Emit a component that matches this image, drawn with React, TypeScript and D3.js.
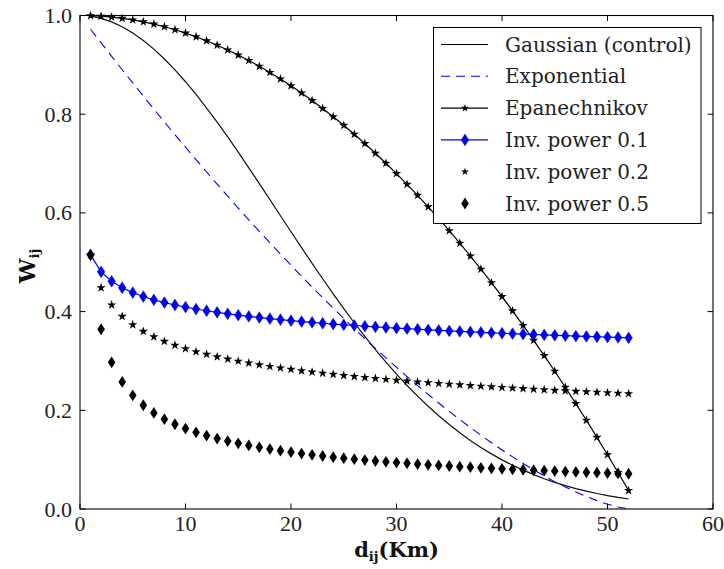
import React from 'react';
import * as d3 from 'd3';

// distance d_ij (Km)
const distances = [1, 2, 3, 4, 5, 6, 7, 8, 9, 10, 11, 12, 13, 14, 15, 16, 17, 18, 19, 20, 21, 22, 23, 24, 25, 26,
  27, 28, 29, 30, 31, 32, 33, 34, 35, 36, 37, 38, 39, 40, 41, 42, 43, 44, 45, 46, 47, 48, 49, 50, 51, 52];

const gaussian = [0.9986, 0.9943, 0.9871, 0.9772, 0.9646, 0.9494, 0.9318, 0.9119, 0.8898, 0.8658, 0.84, 0.8125,
  0.7838, 0.7539, 0.723, 0.6914, 0.6594, 0.6269, 0.5943, 0.5618, 0.5296, 0.4978, 0.4665, 0.436, 0.4062, 0.3774,
  0.3497, 0.323, 0.2975, 0.2733, 0.2503, 0.2286, 0.2081, 0.189, 0.1711, 0.1545, 0.139, 0.1248, 0.1117, 0.0996,
  0.0886, 0.0787, 0.0696, 0.0614, 0.054, 0.0474, 0.0414, 0.0361, 0.0314, 0.0272, 0.0235, 0.0203];

const exponential = [0.9721, 0.9446, 0.9172, 0.8901, 0.8633, 0.8367, 0.8104, 0.7843, 0.7586, 0.7331, 0.7079, 0.6829,
  0.6583, 0.6339, 0.6098, 0.586, 0.5625, 0.5394, 0.5165, 0.4939, 0.4717, 0.4498, 0.4282, 0.407, 0.3861, 0.3655,
  0.3453, 0.3255, 0.3061, 0.287, 0.2683, 0.25, 0.2322, 0.2147, 0.1977, 0.1812, 0.1651, 0.1495, 0.1343, 0.1197,
  0.1057, 0.0922, 0.0793, 0.067, 0.0555, 0.0446, 0.0345, 0.0252, 0.017, 0.0098, 0.0041, 0.0003];

const epanechnikov = [0.9996, 0.9986, 0.9968, 0.9943, 0.9911, 0.9872, 0.9826, 0.9772, 0.9712, 0.9644, 0.9569, 0.9487,
  0.9398, 0.9302, 0.9199, 0.9089, 0.8971, 0.8847, 0.8715, 0.8576, 0.843, 0.8277, 0.8117, 0.7949, 0.7775, 0.7593,
  0.7405, 0.7209, 0.7006, 0.6796, 0.6579, 0.6355, 0.6123, 0.5885, 0.5639, 0.5386, 0.5126, 0.4859, 0.4585, 0.4304,
  0.4016, 0.372, 0.3418, 0.3108, 0.2791, 0.2467, 0.2136, 0.1798, 0.1452, 0.11, 0.074, 0.0374];

const invPower01 = [0.515, 0.4805, 0.4614, 0.4483, 0.4384, 0.4305, 0.4239, 0.4183, 0.4134, 0.4091, 0.4052, 0.4017,
  0.3985, 0.3955, 0.3928, 0.3903, 0.3879, 0.3857, 0.3836, 0.3817, 0.3798, 0.3781, 0.3764, 0.3748, 0.3733, 0.3718,
  0.3704, 0.3691, 0.3678, 0.3665, 0.3653, 0.3642, 0.363, 0.362, 0.3609, 0.3599, 0.3589, 0.358, 0.357, 0.3561,
  0.3552, 0.3544, 0.3536, 0.3527, 0.352, 0.3512, 0.3504, 0.3497, 0.349, 0.3483, 0.3476, 0.3469];

const invPower02 = [0.515, 0.4483, 0.4134, 0.3903, 0.3733, 0.3599, 0.349, 0.3398, 0.3319, 0.3249, 0.3188, 0.3133,
  0.3083, 0.3038, 0.2996, 0.2958, 0.2922, 0.2889, 0.2858, 0.2829, 0.2801, 0.2775, 0.2751, 0.2728, 0.2705, 0.2684,
  0.2664, 0.2645, 0.2626, 0.2608, 0.2591, 0.2575, 0.2559, 0.2544, 0.2529, 0.2515, 0.2501, 0.2488, 0.2475, 0.2463,
  0.245, 0.2439, 0.2427, 0.2416, 0.2405, 0.2395, 0.2384, 0.2374, 0.2365, 0.2355, 0.2346, 0.2337];

const invPower05 = [0.515, 0.3642, 0.2973, 0.2575, 0.2303, 0.2102, 0.1947, 0.1821, 0.1717, 0.1629, 0.1553, 0.1487,
  0.1428, 0.1376, 0.133, 0.1288, 0.1249, 0.1214, 0.1181, 0.1152, 0.1124, 0.1098, 0.1074, 0.1051, 0.103, 0.101,
  0.0991, 0.0973, 0.0956, 0.094, 0.0925, 0.091, 0.0896, 0.0883, 0.0871, 0.0858, 0.0847, 0.0835, 0.0825, 0.0814,
  0.0804, 0.0795, 0.0785, 0.0776, 0.0768, 0.0759, 0.0751, 0.0743, 0.0736, 0.0728, 0.0721, 0.0714];

const xTickValues = [0, 10, 20, 30, 40, 50, 60];
const yTickValues = [0, 0.2, 0.4, 0.6, 0.8, 1.0];
const legendLabels = ['Gaussian (control)', 'Exponential', 'Epanechnikov', 'Inv. power 0.1', 'Inv. power 0.2', 'Inv. power 0.5'];

const W = 724;
const H = 569;
const L = 80, R = 713, T = 15.5, B = 509;

const x = d3.scaleLinear().domain([0, 60]).range([L, R]);
const y = d3.scaleLinear().domain([0, 1]).range([B, T]);

const starPath = d3.symbol(d3.symbolStar, 27)() as string;
const starSmall = d3.symbol(d3.symbolStar, 20)() as string;
const diamondPath = 'M0,-5.9L3.8,0L0,5.9L-3.8,0Z';

const tickFont = '"Liberation Serif", serif';
const legendFont = '"DejaVu Serif", serif';

function linePath(vals: number[]) {
  const gen = d3.line<number>().x((_, i) => x(distances[i])).y((v) => y(v));
  return gen(vals) as string;
}

export default function App() {
  const tickLen = 5.5;
  const legX = 433.5, legY = 27.5, legW = 267.5, legH = 196;
  const rowY = (i: number) => 44.5 + i * 31.8;
  return (
    <svg width={W} height={H} style={{ position: 'absolute', left: 0, top: 0, background: '#fff' }}>
      <rect x={0} y={0} width={W} height={H} fill="#fff" />
      {/* series */}
      <path d={linePath(gaussian)} fill="none" stroke="#111" strokeWidth={1.2} />
      <path d={linePath(exponential)} fill="none" stroke="#0000ff" strokeWidth={1.1} strokeDasharray="9,6" />
      <path d={linePath(epanechnikov)} fill="none" stroke="#000" strokeWidth={1.2} />
      {epanechnikov.map((v, i) => (
        <path key={'e' + i} d={starPath} transform={`translate(${x(distances[i])},${y(v)})`} fill="#000" />
      ))}
      <path d={linePath(invPower01)} fill="none" stroke="#0000ff" strokeWidth={1.2} />
      {invPower01.map((v, i) => (
        <path key={'a' + i} d={diamondPath} transform={`translate(${x(distances[i])},${y(v)})`} fill="#0000ff" stroke="#00006a" strokeWidth={0.4} />
      ))}
      {invPower02.map((v, i) => (
        <path key={'b' + i} d={starPath} transform={`translate(${x(distances[i])},${y(v)})`} fill="#000" />
      ))}
      {invPower05.map((v, i) => (
        <path key={'c' + i} d={diamondPath} transform={`translate(${x(distances[i])},${y(v)})`} fill="#000" />
      ))}

      {/* frame */}
      <rect x={L} y={T} width={R - L} height={B - T} fill="none" stroke="#000" strokeWidth={1.1} />
      {xTickValues.map((t) => (
        <g key={'xt' + t}>
          <line x1={x(t)} x2={x(t)} y1={B} y2={B - tickLen} stroke="#000" strokeWidth={1} />
          <line x1={x(t)} x2={x(t)} y1={T} y2={T + tickLen} stroke="#000" strokeWidth={1} />
          <text x={x(t)} y={531} textAnchor="middle" fontFamily={tickFont} fontSize={22} fill="#222">{t}</text>
        </g>
      ))}
      {yTickValues.map((t) => (
        <g key={'yt' + t}>
          <line x1={L} x2={L + tickLen} y1={y(t)} y2={y(t)} stroke="#000" strokeWidth={1} />
          <line x1={R} x2={R - tickLen} y1={y(t)} y2={y(t)} stroke="#000" strokeWidth={1} />
          <text x={72} y={y(t) + 7.5} textAnchor="end" fontFamily={tickFont} fontSize={22} fill="#222">{t.toFixed(1)}</text>
        </g>
      ))}

      {/* axis labels */}
      <text x={(L + R) / 2} y={557} textAnchor="middle" fontFamily={legendFont} fontWeight="bold" fontSize={21} fill="#111">
        d<tspan fontSize={13} dy={4}>ij</tspan><tspan dy={-4}>(Km)</tspan>
      </text>
      <text transform={`translate(35,266) rotate(-90)`} textAnchor="middle" fontFamily={legendFont} fontWeight="bold" fontSize={22} fill="#111">
        W<tspan fontSize={13} dy={4}>ij</tspan>
      </text>

      {/* legend */}
      <rect x={legX} y={legY} width={legW} height={legH} fill="#fff" stroke="#000" strokeWidth={1} />
      <line x1={441} x2={488} y1={rowY(0)} y2={rowY(0)} stroke="#000" strokeWidth={1.2} />
      <line x1={441} x2={488} y1={rowY(1)} y2={rowY(1)} stroke="#0000ff" strokeWidth={1.1} strokeDasharray="9,6" />
      <line x1={441} x2={488} y1={rowY(2)} y2={rowY(2)} stroke="#000" strokeWidth={1.2} />
      <path d={starSmall} transform={`translate(465,${rowY(2)})`} fill="#000" />
      <line x1={441} x2={488} y1={rowY(3)} y2={rowY(3)} stroke="#0000ff" strokeWidth={1.2} />
      <path d={diamondPath} transform={`translate(465,${rowY(3)})`} fill="#0000ff" stroke="#00006a" strokeWidth={0.4} />
      <path d={starSmall} transform={`translate(465,${rowY(4)})`} fill="#000" />
      <path d={diamondPath} transform={`translate(465,${rowY(5)})`} fill="#000" />
      {legendLabels.map((lab, i) => (
        <text key={lab} x={505} y={rowY(i) + 7} fontFamily={legendFont} fontSize={20} fill="#222">{lab}</text>
      ))}
    </svg>
  );
}
